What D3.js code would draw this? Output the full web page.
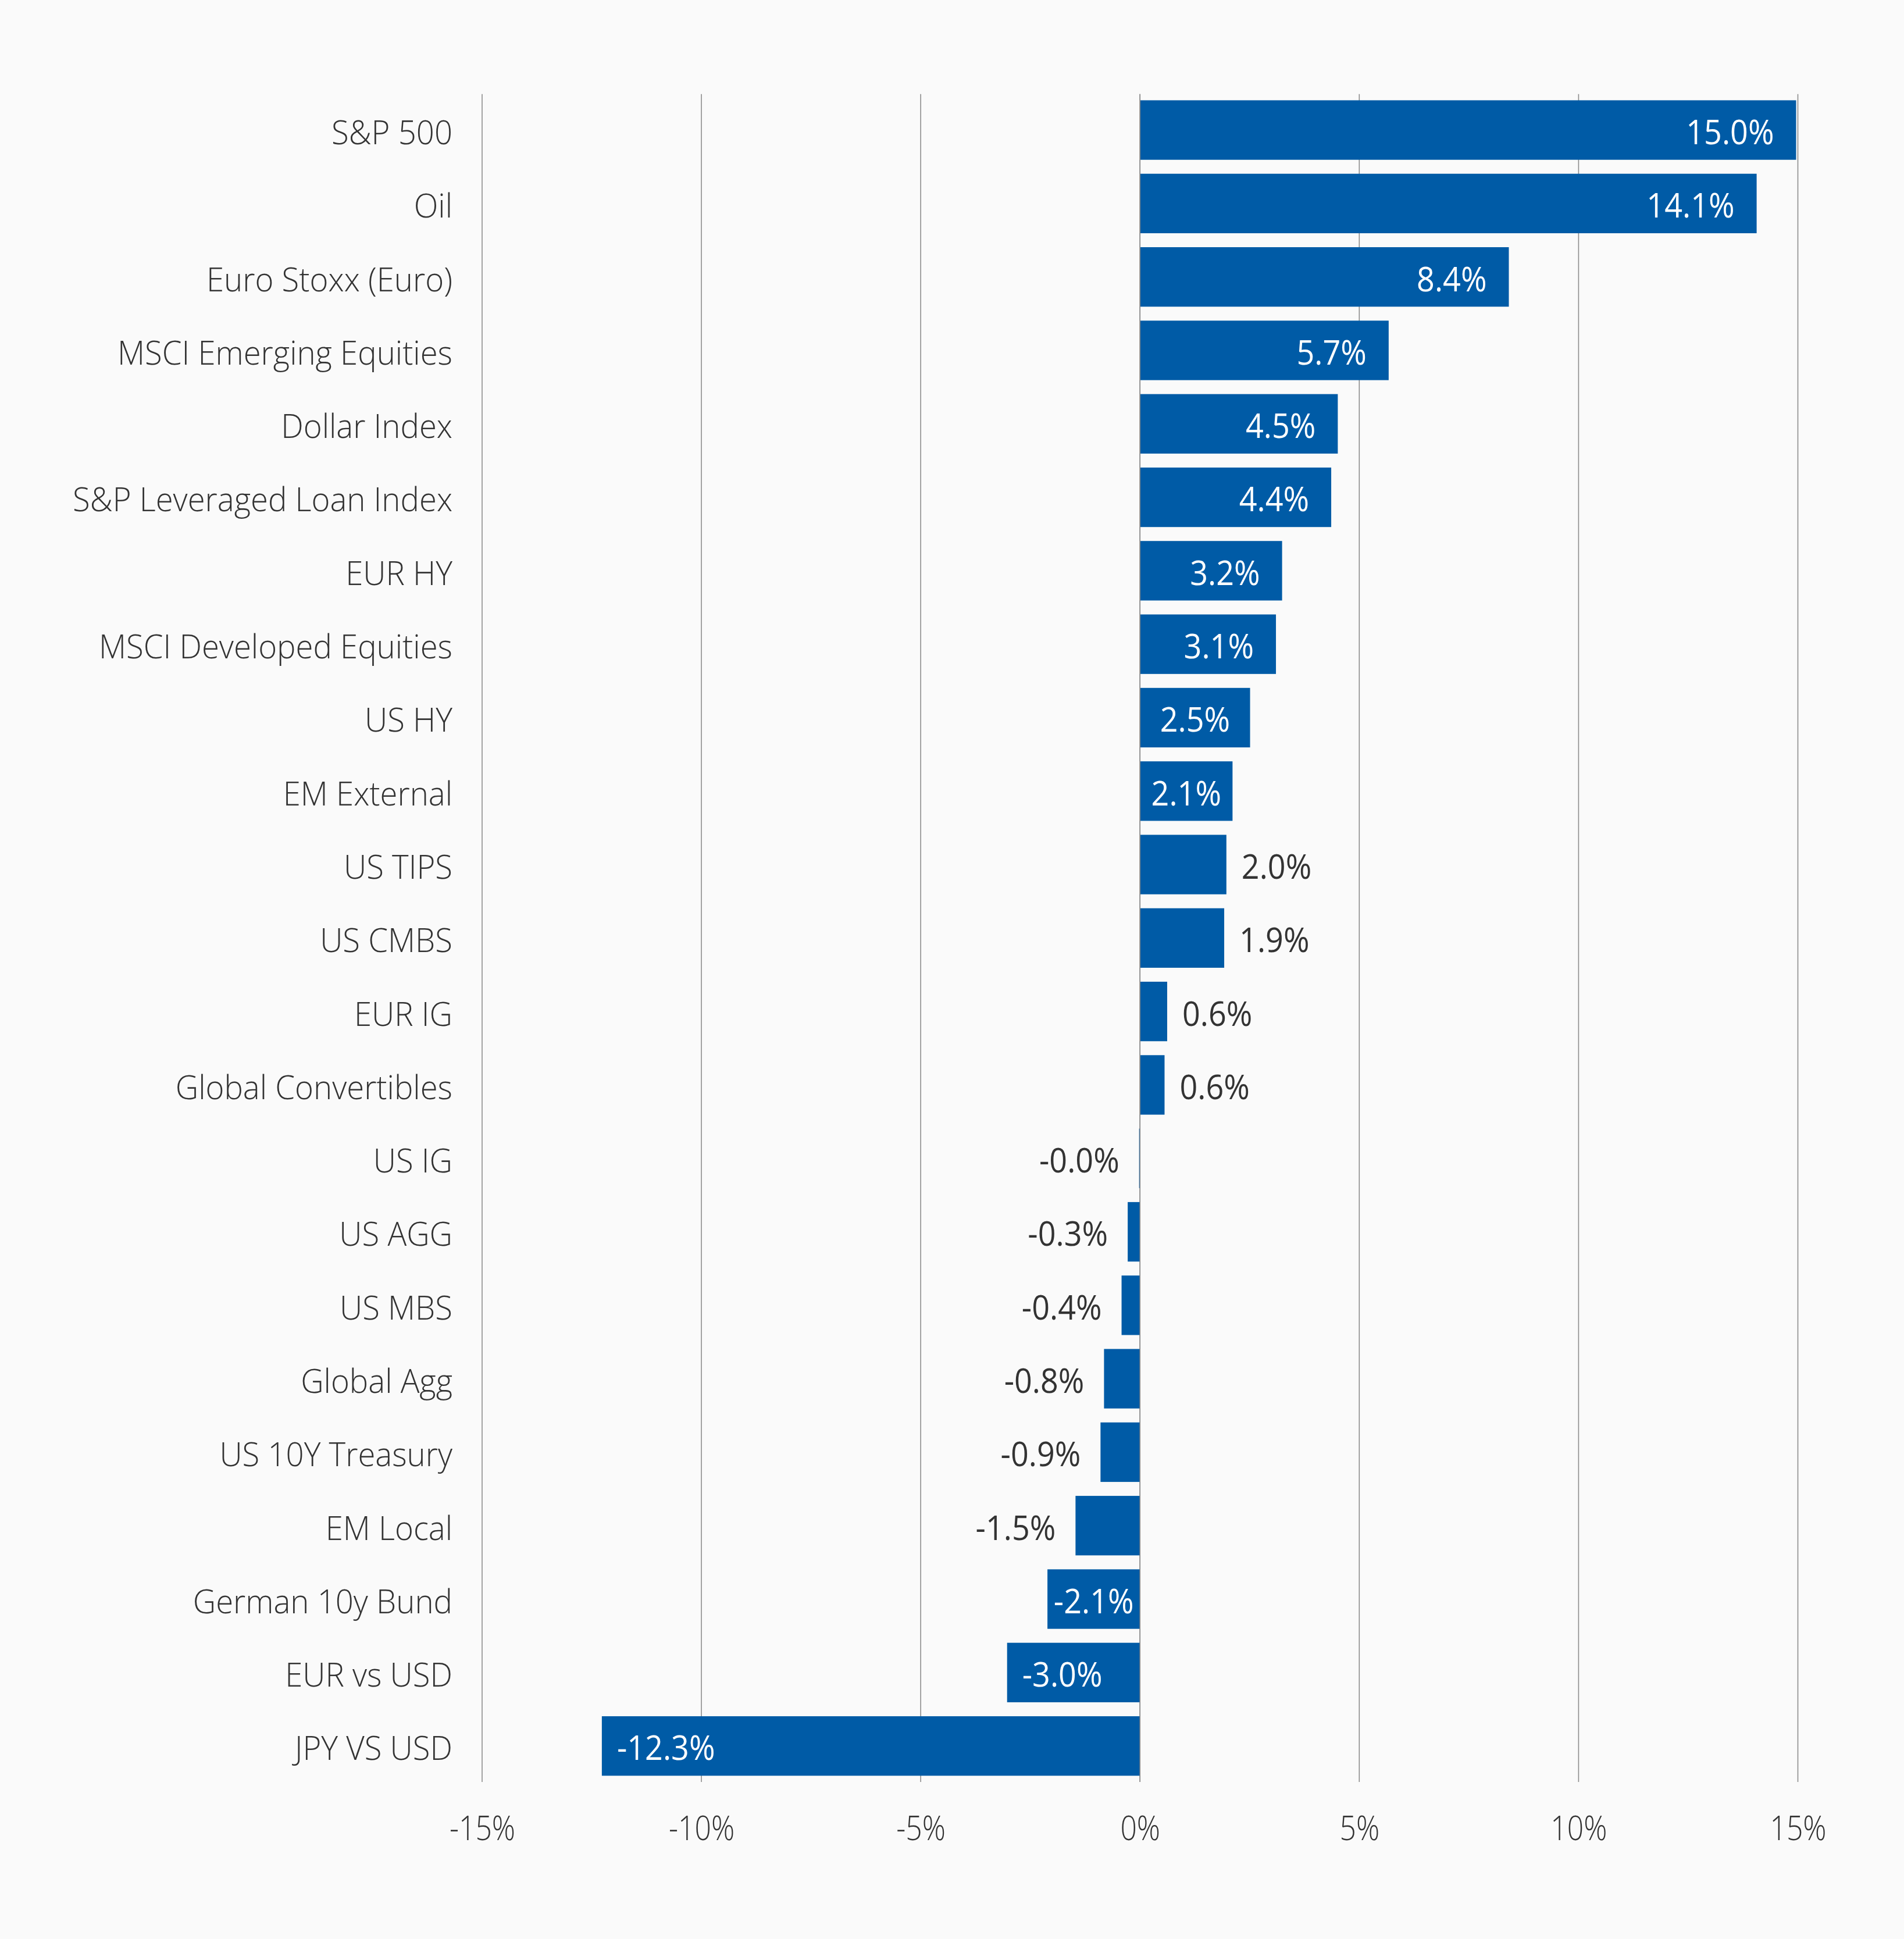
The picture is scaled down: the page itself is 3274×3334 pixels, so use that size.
<!DOCTYPE html>
<html>
<head>
<meta charset="utf-8">
<script src="https://cdn.jsdelivr.net/npm/d3@7"></script>
<style>
  html, body { margin: 0; padding: 0; background: #fafafa; }
  svg { display: block; }
</style>
</head>
<body>
<script>
const categories = [
  "S&P 500", "Oil", "Euro Stoxx (Euro)", "MSCI Emerging Equities", "Dollar Index",
  "S&P Leveraged Loan Index", "EUR HY", "MSCI Developed Equities", "US HY", "EM External",
  "US TIPS", "US CMBS", "EUR IG", "Global Convertibles", "US IG", "US AGG", "US MBS",
  "Global Agg", "US 10Y Treasury", "EM Local", "German 10y Bund", "EUR vs USD", "JPY VS USD"
];
const values = [
  14.96, 14.06, 8.41, 5.67, 4.51, 4.36, 3.24, 3.10, 2.51, 2.11,
  1.97, 1.92, 0.62, 0.56, -0.02, -0.28, -0.42, -0.82, -0.90, -1.47,
  -2.11, -3.03, -12.27
];
const tickValues = [-15, -10, -5, 0, 5, 10, 15];

const W = 3274, H = 3334;
const data = categories.map((c, i) => ({ name: c, value: values[i] }));

const svg = d3.select("body").append("svg")
  .attr("width", W).attr("height", H)
  .style("background", "#fafafa");

const x = d3.scaleLinear().domain([-15, 15]).range([829, 3091.5]);
const y = d3.scaleBand().domain(categories).range([161.7, 3064])
  .paddingInner(0.19).paddingOuter(0.085);

const FONT = "'Open Sans', 'Noto Sans', sans-serif";
const barColor = "#005ba6";
const SX_CAT = 0.94, SX_VAL = 0.93, SX_TICK = 0.86;

// gridlines
svg.append("g").selectAll("line").data(tickValues).join("line")
  .attr("x1", d => x(d)).attr("x2", d => x(d))
  .attr("y1", 161.7).attr("y2", 3064)
  .attr("stroke", "#8c8c8c").attr("stroke-width", 1.6);

// bars
svg.append("g").selectAll("rect").data(data).join("rect")
  .attr("x", d => Math.min(x(0), x(d.value)))
  .attr("y", d => y(d.name))
  .attr("width", d => Math.max(1.5, Math.abs(x(d.value) - x(0))))
  .attr("height", y.bandwidth())
  .attr("fill", barColor);

// zero line on top
svg.append("line")
  .attr("x1", x(0)).attr("x2", x(0)).attr("y1", 161.7).attr("y2", 3064)
  .attr("stroke", "#8c8c8c").attr("stroke-width", 1.6);

// category labels
svg.append("g").selectAll("text").data(data).join("text")
  .attr("transform", d => `translate(778,${y(d.name) + y.bandwidth() / 2}) scale(${SX_CAT},1)`)
  .attr("dy", "0.42em")
  .attr("text-anchor", "end")
  .attr("font-family", FONT)
  .attr("font-weight", 300)
  .attr("font-size", 58)
  .attr("fill", "#333")
  .text(d => d.name);

// value labels
const vl = svg.append("g").selectAll("text").data(data).join("text")
  .attr("dy", "0.42em")
  .attr("font-family", FONT)
  .attr("font-size", 58)
  .text(d => d.value.toFixed(1) + "%");

vl.each(function(d) {
  const t = d3.select(this);
  const w = this.getComputedTextLength() * SX_VAL;
  const barW = Math.abs(x(d.value) - x(0));
  const cy = y(d.name) + y.bandwidth() / 2;
  const inside = Math.abs(d.value) >= 2.05;
  let px, anchor;
  if (inside) {
    t.attr("fill", "#ffffff");
    const gap = d.value > 0 ? 38 : 26;
    if (w + 2 * gap > barW) {
      anchor = "middle"; px = (x(0) + x(d.value)) / 2;
    } else if (d.value > 0) {
      anchor = "end"; px = x(d.value) - gap;
    } else {
      anchor = "start"; px = x(d.value) + gap;
    }
  } else {
    t.attr("fill", "#333");
    if (d.value > 0) {
      anchor = "start"; px = x(d.value) + 26;
    } else {
      anchor = "end"; px = Math.min(x(0) - 1.5, x(d.value)) - 34;
    }
  }
  t.attr("text-anchor", anchor)
   .attr("transform", `translate(${px},${cy}) scale(${SX_VAL},1)`);
});

// x axis
const axis = d3.axisBottom(x).tickValues(tickValues)
  .tickFormat(d => d + "%").tickSize(0).tickPadding(0);
const gx = svg.append("g").attr("transform", "translate(0,3143)").call(axis);
gx.select(".domain").remove();
gx.selectAll("text")
  .attr("dy", "0.36em")
  .attr("y", 0)
  .attr("transform", `scale(${SX_TICK},1)`)
  .attr("font-family", FONT)
  .attr("font-weight", 300)
  .attr("font-size", 58)
  .attr("fill", "#333");
</script>
</body>
</html>
